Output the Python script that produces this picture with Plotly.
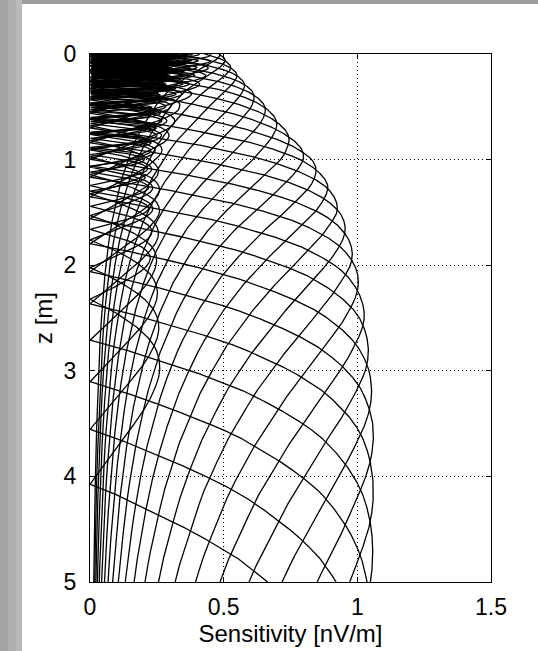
import numpy as np
import plotly.graph_objects as go

# ---- values ----
# depth (m) at which successive pulse-moment kernels reach their main peak
PEAK_DEPTH = [0.04, 0.10, 0.17, 0.25, 0.34, 0.45, 0.58, 0.72, 0.86, 1.02, 1.19,
              1.38, 1.59, 1.83, 2.10, 2.41, 2.76, 3.16, 3.62, 4.15, 4.77, 5.49, 6.30]
# outer envelope of the kernel family (depth, sensitivity)
ENV_Z = [0.0, 0.25, 0.5, 0.75, 1.0, 1.25, 1.5, 1.75, 2.0, 2.5, 3.0, 3.5, 4.0, 4.5, 5.0]
ENV_X = [0.49, 0.57, 0.66, 0.74, 0.83, 0.895, 0.94, 0.97, 0.995, 1.03, 1.05, 1.06, 1.06, 1.06, 1.055]
# relative level of the side lobes above the main lobe, vs depth
SIDELOBE_Z = [0.0, 0.2, 0.5, 1.0, 2.0, 3.0, 5.0]
SIDELOBE_LEVEL = [1.0, 0.85, 0.55, 0.33, 0.27, 0.27, 0.27]
PULSE_INDEX = list(range(-1, 24))   # pulse moments q_k = q0 * Q_RATIO**k
Q_RATIO = 1.25
UPPER_STRETCH = 0.75

X_TICKS = [0, 0.5, 1, 1.5]
X_TICKTEXT = ["0", "0.5", "1", "1.5"]
Z_TICKS = [0, 1, 2, 3, 4, 5]
Z_TICKTEXT = ["0", "1", "2", "3", "4", "5"]

# ---- kernels ----
z = np.linspace(0.0, 5.0, 5001)
pk = np.array(PEAK_DEPTH)
idx = np.interp(z, pk, np.arange(len(pk)))
idx = np.where(z < pk[0], (z - pk[0]) / (pk[1] - pk[0]), idx)
E = np.interp(z, ENV_Z, ENV_X)
side = np.interp(z, SIDELOBE_Z, SIDELOBE_LEVEL)
lnr = np.log(Q_RATIO)

xs, ys = [], []
for k in PULSE_INDEX:
    d = idx - k
    psi = np.where(d >= 0, (np.pi / 2) * np.exp(-d * lnr),
                   (np.pi / 2) * np.exp(-d * lnr * UPPER_STRETCH))
    s = np.abs(np.sin(psi))
    amp = np.where(psi > np.pi, side * (np.pi / psi) ** 0.2, 1.0)
    x = E * s * amp
    xs.extend(x.tolist() + [None])
    ys.extend(z.tolist() + [None])

fig = go.Figure()
fig.add_trace(go.Scatter(x=xs, y=ys, mode="lines",
                         line=dict(color="black", width=1.3),
                         hoverinfo="skip", showlegend=False))

FONT = "Liberation Sans, Arial, sans-serif"
axis_common = dict(
    showline=True, linecolor="black", linewidth=1, mirror="ticks",
    ticks="inside", ticklen=5, tickcolor="black", tickwidth=1,
    showgrid=True, gridcolor="black", gridwidth=1, griddash="1px,3px",
    zeroline=False, tickfont=dict(family=FONT, size=23, color="black"),
)

fig.update_layout(
    width=538, height=651,
    margin=dict(l=90, r=47, t=54, b=69, pad=0),
    paper_bgcolor="white", plot_bgcolor="white",
    xaxis=dict(range=[0, 1.5], tickvals=X_TICKS, ticktext=X_TICKTEXT,
               ticklabelstandoff=4,
               title=dict(text="Sensitivity [nV/m]", standoff=2,
                          font=dict(family=FONT, size=24, color="black")),
               **axis_common),
    yaxis=dict(range=[5, 0], tickvals=Z_TICKS, ticktext=Z_TICKTEXT,
               ticklabelstandoff=8,
               title=dict(text="z [m]", standoff=4,
                          font=dict(family=FONT, size=24, color="black")),
               **axis_common),
    shapes=[
        dict(type="rect", xref="paper", yref="paper", x0=-0.2245, x1=-0.2045,
             y0=-0.14, y1=1.11, fillcolor="#a4a4a4", line=dict(width=0), layer="below"),
        dict(type="rect", xref="paper", yref="paper", x0=-0.2045, x1=-0.1845,
             y0=-0.14, y1=1.11, fillcolor="#afafaf", line=dict(width=0), layer="below"),
        dict(type="rect", xref="paper", yref="paper", x0=-0.1845, x1=-0.1696,
             y0=-0.14, y1=1.11, fillcolor="#b9b9b9", line=dict(width=0), layer="below"),
        dict(type="rect", xref="paper", yref="paper", x0=-0.1696, x1=1.2,
             y0=1.0947, y1=1.11, fillcolor="#9c9c9c", line=dict(width=0), layer="below"),
    ],
)

fig.write_html("out.html")
